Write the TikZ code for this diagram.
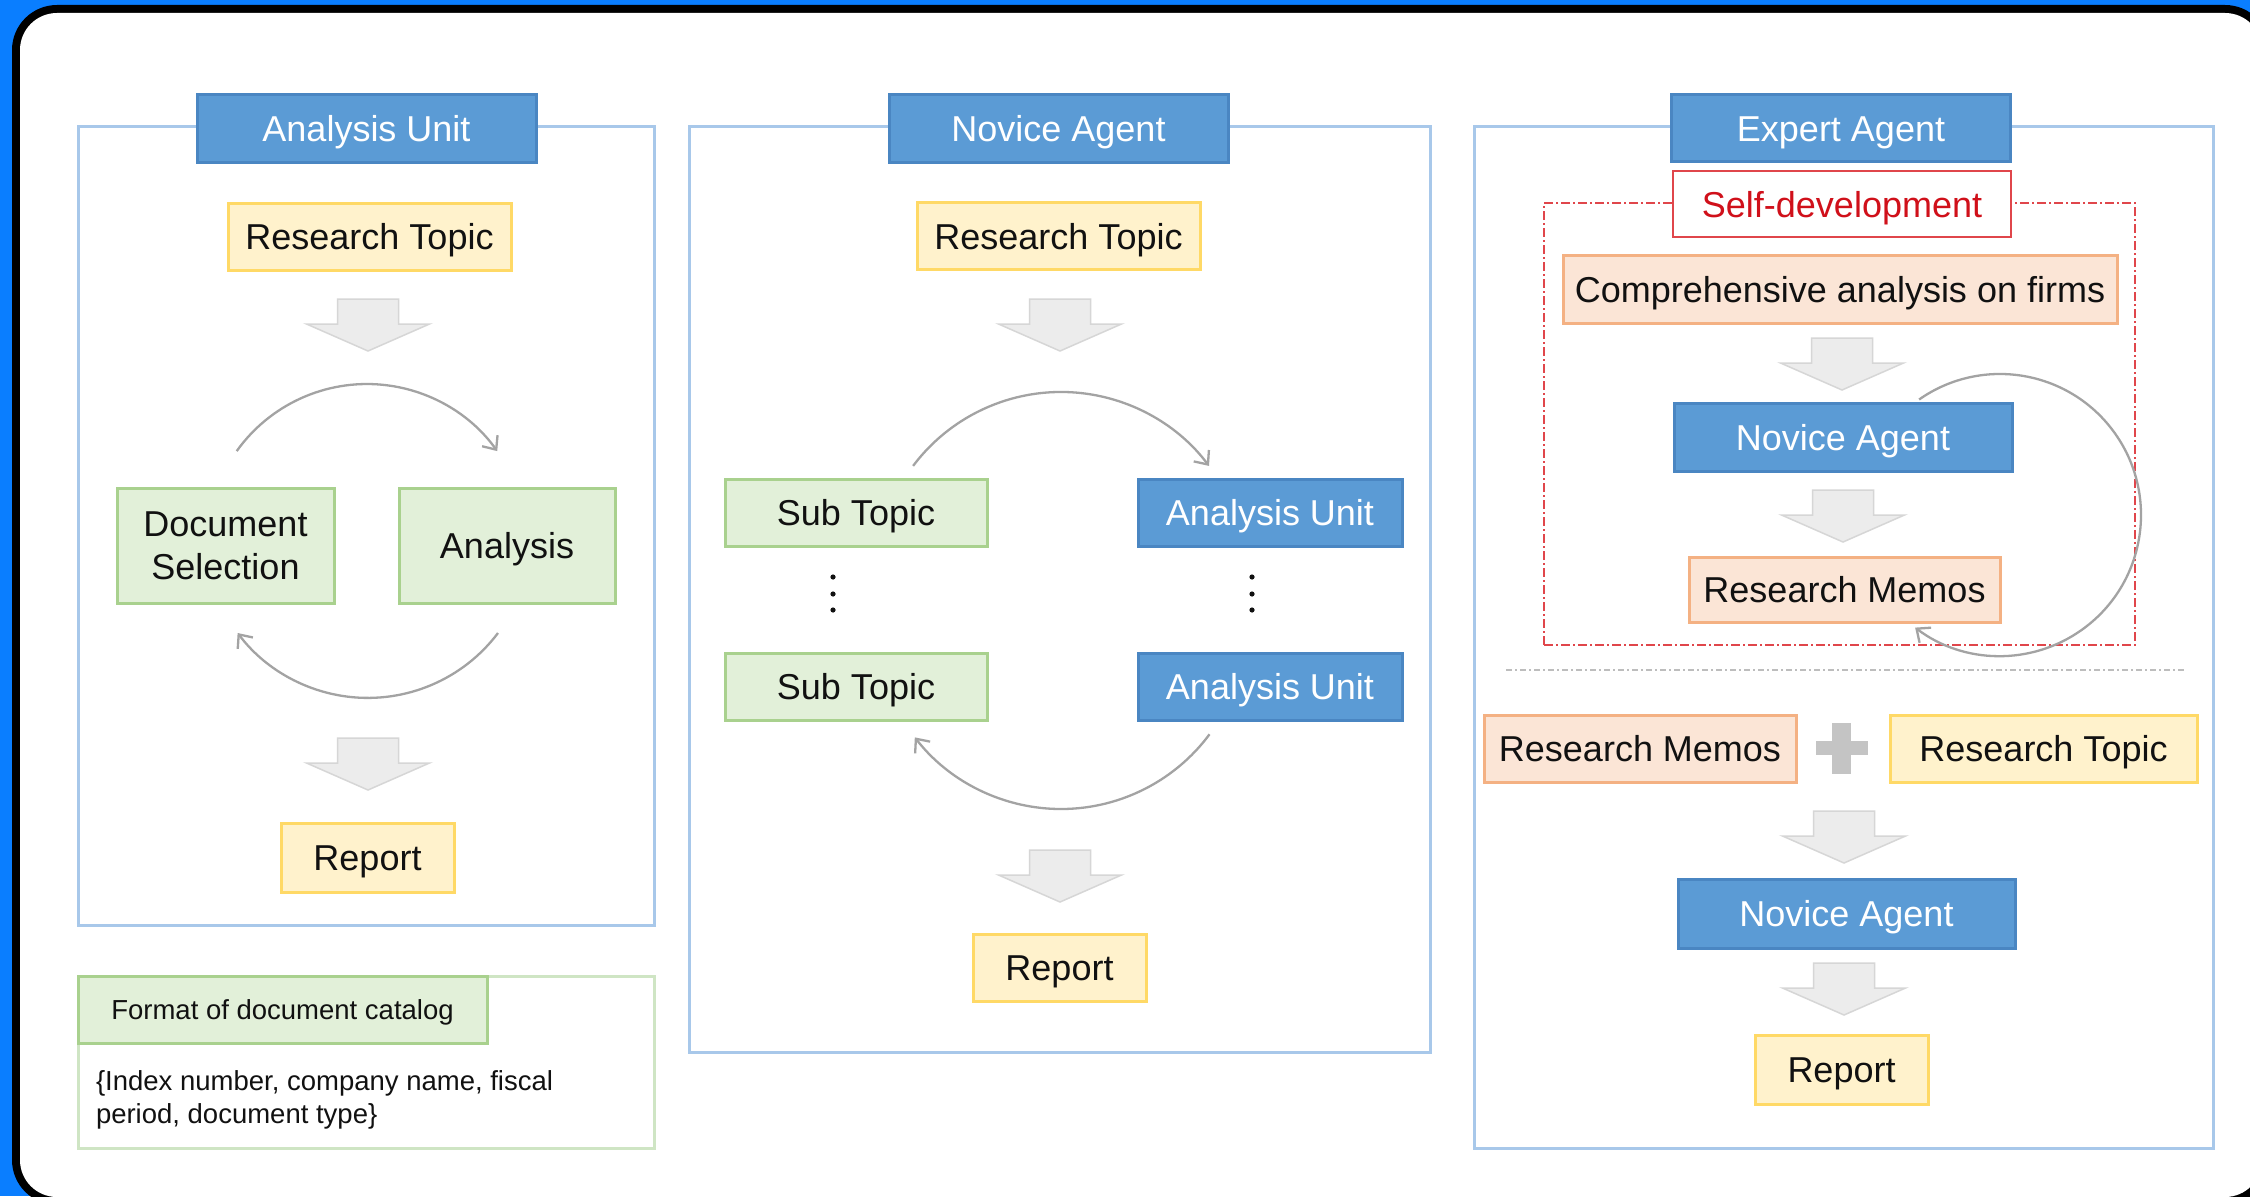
\documentclass[tikz,border=0pt]{standalone}
\usepackage{fontspec}
\setmainfont{Liberation Sans}
\usetikzlibrary{arrows.meta}

\definecolor{bgblue}{HTML}{0A7EFF}
\definecolor{titlefill}{HTML}{5B9BD5}
\definecolor{titledraw}{HTML}{4A86C2}
\definecolor{panelline}{HTML}{A8C8EA}
\definecolor{yfill}{HTML}{FFF2CC}
\definecolor{ydraw}{HTML}{FFD966}
\definecolor{gfill}{HTML}{E2F0D9}
\definecolor{gdraw}{HTML}{A9D18E}
\definecolor{ofill}{HTML}{FBE5D6}
\definecolor{odraw}{HTML}{F4B183}
\definecolor{redline}{HTML}{E0464B}
\definecolor{redtext}{HTML}{D0101A}
\definecolor{arrowfill}{HTML}{ECECEC}
\definecolor{arrowdraw}{HTML}{D6D6D6}
\definecolor{arcgray}{HTML}{A3A3A3}
\definecolor{plusgray}{HTML}{C4C4C4}
\definecolor{sepgray}{HTML}{BDBDBD}
\definecolor{catline}{HTML}{CFE5C4}
\definecolor{inkblack}{HTML}{111111}

\newcommand\mainsize{\fontsize{36}{43}\selectfont}
\newcommand\catsize{\fontsize{27.5}{33}\selectfont}

\begin{document}
\begin{tikzpicture}[x=1pt,y=1pt,
  every node/.style={inner sep=0pt, outer sep=0pt},
  cardbase/.style={draw, line width=3pt, font=\mainsize, text=inkblack, align=center},
  card/.style={cardbase, text height=26pt, text depth=0pt},
  titlecard/.style={card, fill=titlefill, draw=titledraw, text=white,
    minimum width=339pt, minimum height=67pt},
  bluecard/.style={card, fill=titlefill, draw=titledraw, text=white},
  topic/.style={card, fill=yfill, draw=ydraw},
  greencard/.style={card, fill=gfill, draw=gdraw},
  greentwoline/.style={cardbase, fill=gfill, draw=gdraw},
  memo/.style={card, fill=ofill, draw=odraw},
  panel/.style={draw=panelline, line width=3pt, fill=white},
  barrow/.style={fill=arrowfill, draw=arrowdraw, line width=1.5pt},
  loopline/.style={draw=arcgray, line width=2.3pt,
    -{Straight Barb[length=11pt,width=19pt]}},
  downarrow/.pic={\path[barrow] (-30.5,0) -- (30.5,0) -- (30.5,-25) -- (61.5,-25)
      -- (0,-52) -- (-61.5,-25) -- (-30.5,-25) -- cycle;}
]
% canvas and rounded frame
\useasboundingbox (0,0) rectangle (2250,-1196);
\fill[bgblue] (0,0) rectangle (2250,-1196);
\fill[black, rounded corners=45pt] (12,-5) rectangle (2270,-1205);
\fill[white, rounded corners=37pt] (20,-13) rectangle (2262,-1197);

% ---------------- Analysis Unit ----------------
\node[panel, minimum width=576pt, minimum height=798pt] (p1) at (366,-526) {};
\node[titlecard] (t1) at (366.5,-128.5) {Analysis Unit};
\node[topic, minimum width=283pt, minimum height=67pt] (rt1) at (369.5,-236.5) {Research Topic};
\pic at (368,-299) {downarrow};
\node[greentwoline, minimum width=217pt, minimum height=115pt] (ds) at (225.5,-545.5) {Document\\Selection};
\node[greencard, minimum width=216pt, minimum height=115pt] (an) at (507,-545.5) {Analysis};
\coordinate (a1s) at (236.7,-451.1);
\coordinate (a1b) at (498,-633);
\draw[loopline] (a1s) arc[start angle=144.5, end angle=35.5, radius=160];
\draw[loopline] (a1b) arc[start angle=-37, end angle=-143, radius=163];
\pic at (368,-738) {downarrow};
\node[topic, minimum width=173pt, minimum height=69pt] (rp1) at (367.5,-857.5) {Report};

% catalog format note
\node[draw=catline, line width=3pt, minimum width=576pt, minimum height=172pt] (cat) at (366,-1062) {};
\node[draw=gdraw, fill=gfill, line width=3pt, minimum width=409pt, minimum height=67pt,
  font=\catsize, text=inkblack, text height=20pt, text depth=0pt] (cathead) at (282.5,-1009.5)
  {Format of document catalog};
\node[anchor=west, align=left, font=\catsize, text=inkblack] (catbody) at (96,-1100)
  {\{Index number, company name, fiscal\\period, document type\}};

% ---------------- Novice Agent ----------------
\node[panel, minimum width=741pt, minimum height=925pt] (p2) at (1059.5,-589.5) {};
\node[titlecard] (t2) at (1058.5,-128.5) {Novice Agent};
\node[topic, minimum width=283pt, minimum height=67pt] (rt2) at (1058.5,-236) {Research Topic};
\pic at (1060,-299) {downarrow};
\node[greencard, minimum width=262pt, minimum height=67pt] (st1) at (856,-512.5) {Sub Topic};
\node[bluecard, minimum width=264pt, minimum height=67pt] (au1) at (1270,-512.5) {Analysis Unit};
\node[greencard, minimum width=262pt, minimum height=67pt] (st2) at (856,-686.5) {Sub Topic};
\node[bluecard, minimum width=264pt, minimum height=67pt] (au2) at (1270,-686.5) {Analysis Unit};
\foreach \yy in {577,594,610} {
  \fill[inkblack] (833,-\yy) circle (2.6);
  \fill[inkblack] (1252,-\yy) circle (2.6);
}
\coordinate (a2s) at (913.1,-465.9);
\coordinate (a2b) at (1209.5,-734.3);
\draw[loopline] (a2s) arc[start angle=143.1, end angle=36.9, radius=185];
\draw[loopline] (a2b) arc[start angle=-36.6, end angle=-142.2, radius=185];
\pic at (1060,-850) {downarrow};
\node[topic, minimum width=173pt, minimum height=67pt] (rp2) at (1059.5,-967.5) {Report};

% ---------------- Expert Agent ----------------
\node[panel, minimum width=739pt, minimum height=1021pt] (p3) at (1843.5,-637.5) {};
\node[draw=redline, line width=2.2pt, dash pattern=on 9pt off 3pt on 2pt off 3pt,
  minimum width=591pt, minimum height=442pt] (selfframe) at (1839.5,-424) {};
\node[titlecard] (t3) at (1841,-128) {Expert Agent};
\node[card, fill=white, draw=redline, line width=2pt, text=redtext,
  minimum width=338pt, minimum height=66pt] (sd) at (1842,-204) {Self-development};
\node[memo, minimum width=554pt, minimum height=68pt] (cp) at (1840,-289) {Comprehensive analysis on firms};
\pic at (1842,-338) {downarrow};
\node[bluecard, minimum width=338pt, minimum height=68pt] (na1) at (1843,-437) {Novice Agent};
\pic at (1843,-490) {downarrow};
\node[memo, minimum width=311pt, minimum height=65pt] (rm1) at (1844.5,-589.5) {Research Memos};
\coordinate (a3s) at (1919.1,-399.5);
\draw[loopline] (a3s) arc[start angle=125, end angle=-127, radius=141];

\coordinate (sepL) at (1506,-670);
\coordinate (sepR) at (2185,-670);
\draw[sepgray, line width=2pt, dash pattern=on 6pt off 3pt on 2pt off 3pt] (sepL) -- (sepR);

\node[memo, minimum width=312pt, minimum height=67pt] (rm2) at (1640,-748.5) {Research Memos};
\fill[plusgray] (1832,-723) rectangle (1851,-774);
\fill[plusgray] (1816,-741) rectangle (1868,-755);
\node[topic, minimum width=307pt, minimum height=67pt] (rt3) at (2043.5,-748.5) {Research Topic};
\pic at (1844,-811) {downarrow};
\node[bluecard, minimum width=337pt, minimum height=69pt] (na2) at (1846.5,-913.5) {Novice Agent};
\pic at (1844,-963) {downarrow};
\node[topic, minimum width=173pt, minimum height=69pt] (rp3) at (1841.5,-1069.5) {Report};
\end{tikzpicture}
\end{document}
